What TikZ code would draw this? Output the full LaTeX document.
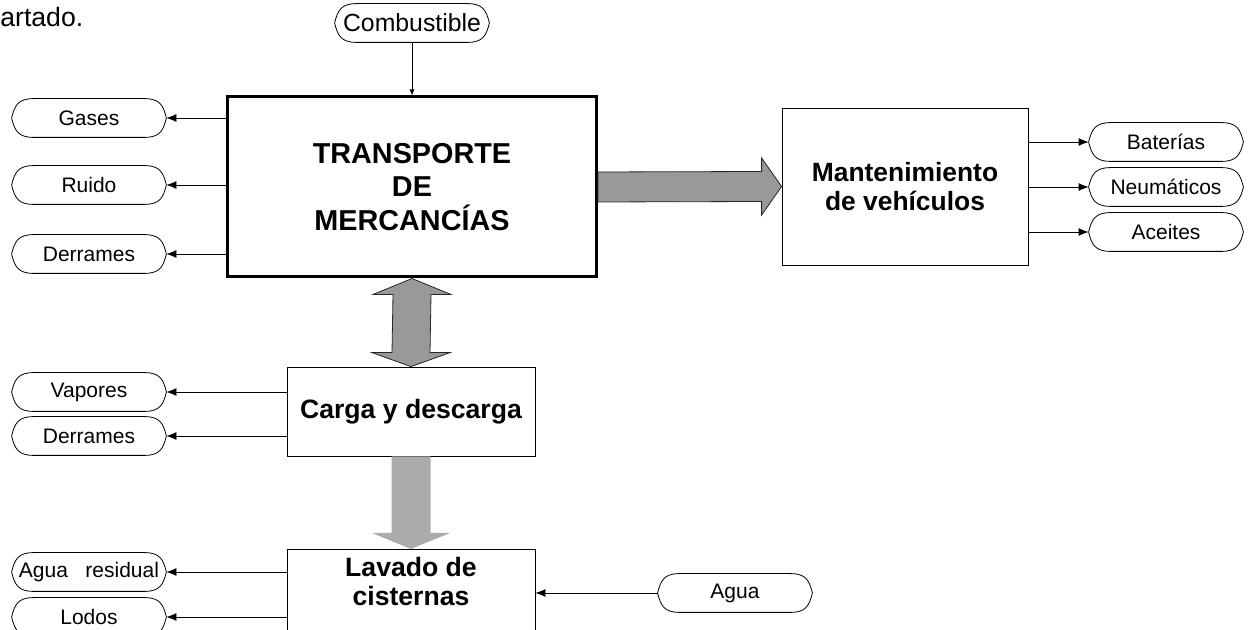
\documentclass[tikz,border=0pt]{standalone}
\usepackage{fontspec}
\setmainfont{Liberation Sans}
\usepackage{tikz}
\usetikzlibrary{arrows.meta,calc}

\begin{document}
\begin{tikzpicture}[
    x=0.5pt, y=-0.5pt,
    pbox/.style={rectangle, draw, thin, fill=white, align=center, inner sep=4pt,
                font=\fontsize{13.2}{14.7}\selectfont\bfseries},
    term/.style={rectangle, minimum width=77pt, minimum height=19pt, inner sep=0pt,
                font=\fontsize{10.5}{12}\selectfont,
                append after command={\pgfextra{
                  \draw[thin] ($(\tikzlastnode.north west)+(11pt,0)$)
                    -- ($(\tikzlastnode.north east)+(-11pt,0)$)
                    .. controls +(8pt,0) and +(-1.5pt,6pt) .. (\tikzlastnode.east)
                    .. controls +(-1.5pt,-6pt) and +(8pt,0) .. ($(\tikzlastnode.south east)+(-11pt,0)$)
                    -- ($(\tikzlastnode.south west)+(11pt,0)$)
                    .. controls +(-8pt,0) and +(1.5pt,-6pt) .. (\tikzlastnode.west)
                    .. controls +(1.5pt,6pt) and +(-8pt,0) .. ($(\tikzlastnode.north west)+(11pt,0)$);
                }}},
    arr/.style={-{Latex[length=5pt,width=4pt]}, thin},
    fat/.style={draw=black!85, fill=black!40, thin}
]
\useasboundingbox (0,0) rectangle (1249,630);
\clip (0,0) rectangle (1249,630);

\node[anchor=base west, inner sep=0pt, font=\fontsize{13.3}{16}\selectfont] (intro) at (0,27) {artado.};

% Process boxes
\node[pbox, line width=1.5pt, minimum width=184.5pt, minimum height=90pt,
      font=\fontsize{14.4}{16.9}\selectfont\bfseries] (trans) at (412,187)
      {TRANSPORTE\\DE\\MERCANCÍAS};
\node[pbox, minimum width=123pt, minimum height=78.5pt] (mant) at (905,186.5)
      {Mantenimiento\\de vehículos};
\node[pbox, minimum width=124pt, minimum height=44.5pt,
      font=\fontsize{13.3}{15.5}\selectfont\bfseries] (carga) at (411,411.5) {Carga y descarga};
\node[pbox, minimum width=124pt, anchor=north, text depth=40pt,
      font=\fontsize{13.3}{14.5}\selectfont\bfseries] (lavado) at (411,549) {Lavado de\\cisternas};

% Inputs and outputs
\node[term, font=\fontsize{12.4}{14}\selectfont] (comb) at (412,23) {Combustible};
\node[term] (gases) at (89,118) {Gases};
\node[term] (ruido) at (89,185) {Ruido};
\node[term] (derr1) at (89,254) {Derrames};
\node[term] (vapores) at (89,392) {Vapores};
\node[term] (derr2) at (89,436) {Derrames};
\node[term] (aguares) at (89,572) {Agua~~~residual};
\node[term] (lodos) at (89,617) {Lodos};
\node[term] (bat) at (1166,142) {Baterías};
\node[term] (neu) at (1166,187) {Neumáticos};
\node[term] (ace) at (1166,232) {Aceites};
\node[term] (agua) at (735,593) {Agua};

\draw[-{Latex[length=3pt,width=2.5pt]}, thin] (comb.south) -- (trans.north -| comb.south);
\foreach \t in {gases,ruido,derr1}
  \draw[arr] (trans.west |- \t.east) -- (\t.east);
\foreach \t in {vapores,derr2}
  \draw[arr] (carga.west |- \t.east) -- (\t.east);
\foreach \t in {aguares,lodos}
  \draw[arr] (lavado.west |- \t.east) -- (\t.east);
\foreach \t in {bat,neu,ace}
  \draw[arr] (mant.east |- \t.west) -- (\t.west);
\draw[arr] (agua.west) -- (lavado.east |- agua.west);

% Fat arrows between the stages
\draw[fat] ($(trans.east)+(0,-15)$) -- ($(mant.west)+(-20,-15)$) -- ++(0,-13.5)
      -- (mant.west) -- ($(mant.west)+(-20,28.5)$) -- ++(0,-13.5)
      -- ($(trans.east)+(0,15)$) -- cycle;
\draw[fat] (trans.south) -- ++(39,16) -- ++(-20,0) -- ($(carga.north)+(19,-14)$)
      -- ++(20,0) -- (carga.north) -- ++(-39,-14) -- ++(20,0)
      -- ($(trans.south)+(-19,16)$) -- ++(-20,0) -- cycle;
\fill[black!33] ($(carga.south)+(19.5,0)$) -- ($(lavado.north)+(19.5,-16)$) -- ++(19.5,0)
      -- (lavado.north) -- ++(-39,-16) -- ++(19.5,0) -- ($(carga.south)+(-19.5,0)$) -- cycle;
\end{tikzpicture}
\end{document}
